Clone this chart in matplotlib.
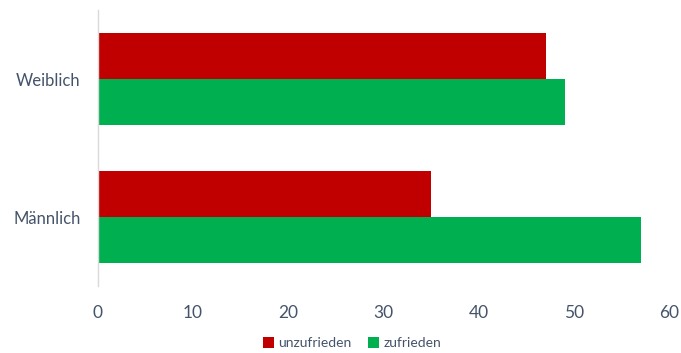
import matplotlib.pyplot as plt
import numpy as np

categories = ['Männlich', 'Weiblich']
unzufrieden = [35, 47]
zufrieden = [57, 49]
x_ticks = [0, 10, 20, 30, 40, 50, 60]

red = '#C00000'
green = '#00B050'
text_col = '#44546A'

plt.rcParams['font.family'] = ['Lato', 'DejaVu Sans']

fig = plt.figure(figsize=(6.81, 3.53), dpi=100)
ax = fig.add_axes([97.5/681, 1 - 286/353, 572/681, 276/353])

y = np.arange(len(categories))
h = 1/3
ax.barh(y + h/2, unzufrieden, height=h, color=red, label='unzufrieden')
ax.barh(y - h/2, zufrieden, height=h, color=green, label='zufrieden')

ax.set_xlim(0, 60)
ax.set_ylim(-0.5, 1.5)
ax.set_xticks(x_ticks)
ax.set_xticklabels([str(v) for v in x_ticks], fontsize=12.5, color=text_col)
ax.set_yticks(y)
ax.set_yticklabels(categories, fontsize=12, color=text_col)
ax.tick_params(axis='both', length=0)
ax.tick_params(axis='x', pad=14)
ax.tick_params(axis='y', pad=12)

for s in ['top', 'right', 'bottom']:
    ax.spines[s].set_visible(False)
ax.spines['left'].set_color('#D9D9D9')
ax.spines['left'].set_linewidth(1)

fig.legend(loc='center', bbox_to_anchor=(352/681, 1 - 343/353), ncol=2,
           frameon=False, fontsize=10, handlelength=0.8, handleheight=0.8,
           handletextpad=0.3, columnspacing=1.2, labelcolor=text_col)

fig.savefig('out.png', dpi=100)
